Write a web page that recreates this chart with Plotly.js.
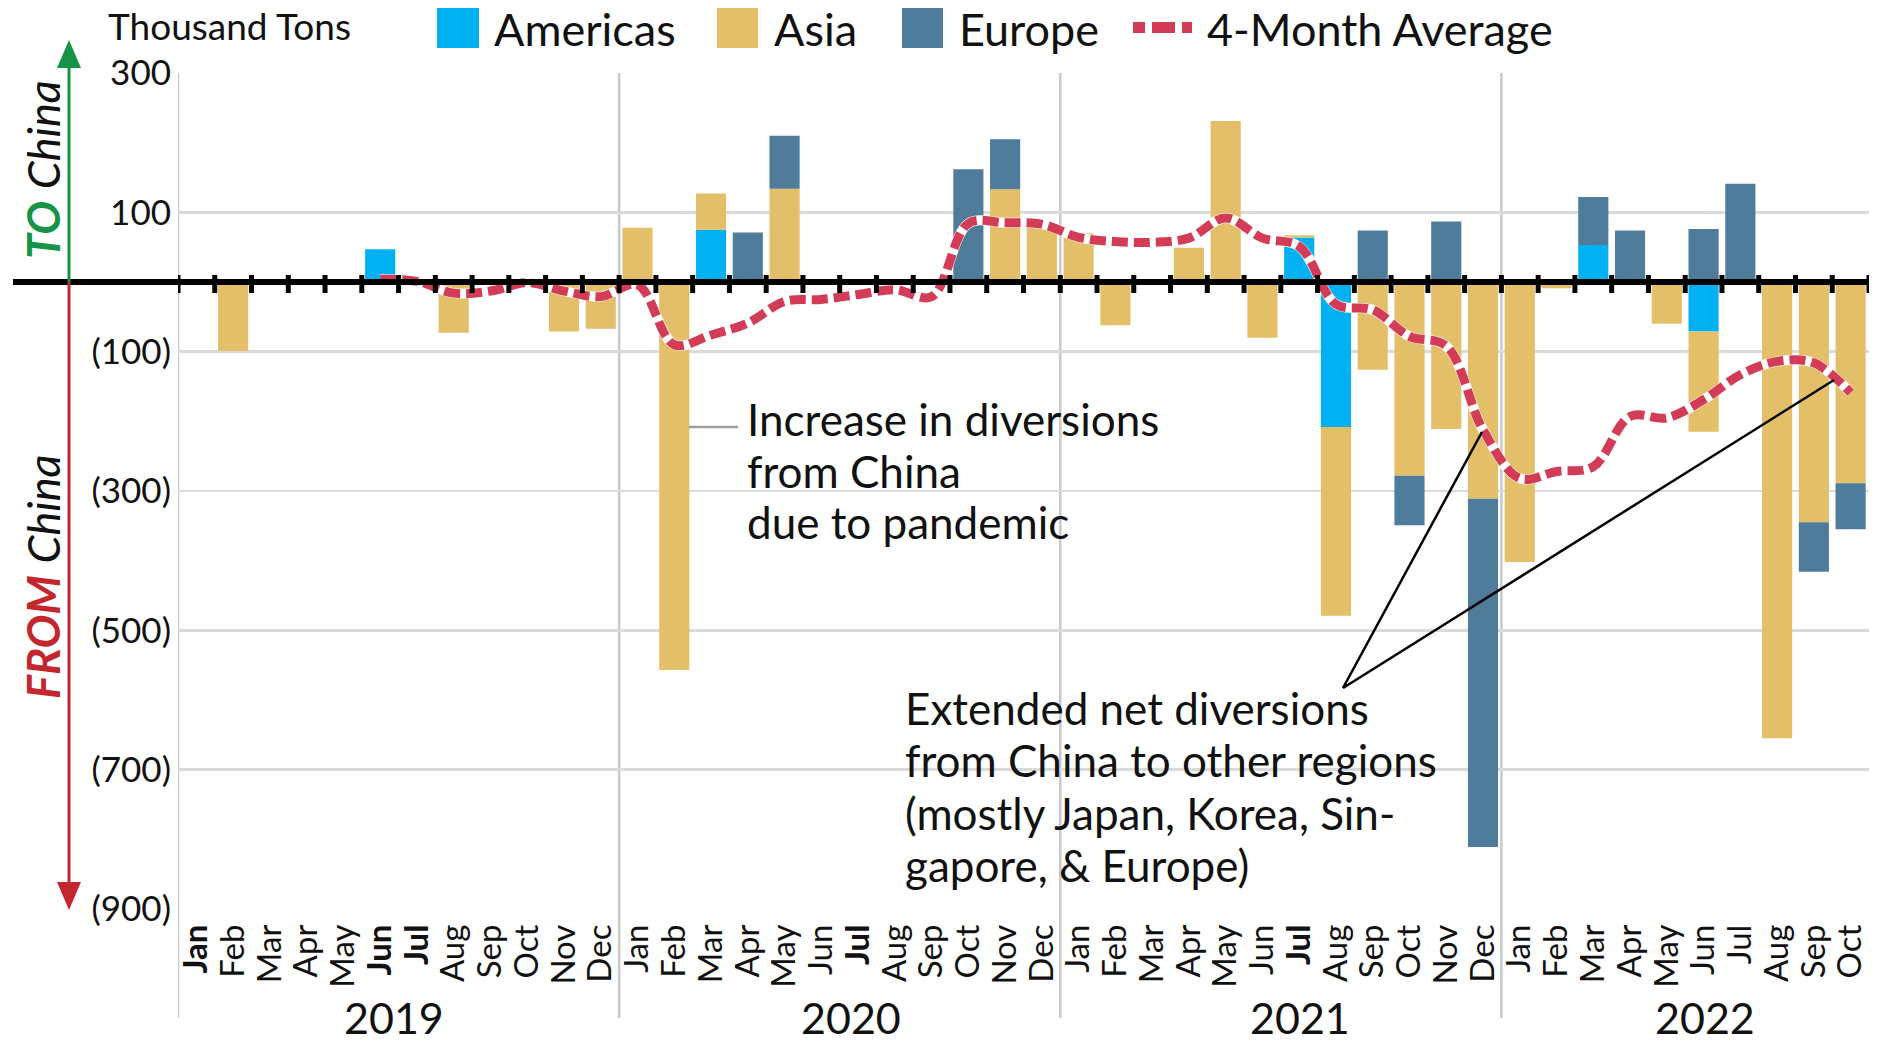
<!DOCTYPE html>
<html>
<head>
<meta charset="utf-8">
<script src="https://cdn.plot.ly/plotly-3.0.1.min.js"></script>
<style>html,body{margin:0;padding:0;background:#fff;}#chart{width:1888px;height:1043px;}</style>
</head>
<body>
<div id="chart"></div>
<script>
// ---- Data (thousand tons; positive = TO China, negative = FROM China) ----
const monthNames = ['Jan','Feb','Mar','Apr','May','Jun','Jul','Aug','Sep','Oct','Nov','Dec'];
const years = ['2019','2020','2021','2022'];
const boldMonths = [0, 5, 6, 18, 30];  // labels printed in bold in the source
const monthIndex = Array.from({length: 46}, (_, i) => i); // Jan 2019 .. Oct 2022

const americas = [
  null,null,null,null,null,47,null,null,null,null,null,null,
  null,null,75,null,null,null,null,null,null,null,null,null,
  null,null,null,null,null,null,64,-208,null,null,null,null,
  null,null,53,null,null,-71,null,null,null,null
];
const asia = [
  null,-99,null,null,null,null,null,-73,null,null,-71,-67,
  78,-557,52,null,134,null,null,null,null,null,133,78,
  70,-62,null,49,231,-80,3,-271,-126,-278,-211,-311,
  -402,-9,null,null,-60,-144,null,-655,-345,-289
];
const europe = [
  null,null,null,null,null,null,null,null,null,null,null,null,
  null,null,null,71,76,null,null,null,null,162,72,null,
  null,null,null,null,null,null,null,null,74,-71,87,-500,
  null,null,69,74,null,76,141,null,-71,-66
];
// 4-month average, Jun 2019 .. Oct 2022
const avgIndex = Array.from({length: 41}, (_, i) => i + 5);
const avgValues = [
  4,1,-16,-13,-1,-13,-21,
  -4,-90,-76,-59,-28,-25,-18,-11,-21,84,85,83,
  64,58,57,63,92,63,51,-32,-40,-78,-92,-212,
  -282,-272,-265,-193,-195,-169,-133,-114,-116,-159
];
const yTickVals = [300,100,-100,-300,-500,-700,-900];
const yTickText = ['300','100','(100)','(300)','(500)','(700)','(900)'];
const legendNames = ['Americas','Asia','Europe','4-Month Average'];
const note1 = ['Increase in diversions', 'from China', 'due to pandemic'];
const note2 = ['Extended net diversions', 'from China to other regions',
               '(mostly Japan, Korea, Sin-', 'gapore, &amp; Europe)'];

// ---- Styling ----
const FONT = 'Lato, "Open Sans", "DejaVu Sans", sans-serif';
const C_AM = '#00B0F0', C_AS = '#E4BF6A', C_EU = '#4F7C9A', C_AVG = '#D23C57';
const GREEN = '#159447', RED = '#C4262E';

const monthTickText = monthIndex.map(i => {
  const m = monthNames[i % 12];
  return boldMonths.includes(i) ? '<b>' + m + '</b>' : m;
});

const barCommon = {type: 'bar', x: monthIndex, width: 0.82, showlegend: false,
  hoverinfo: 'x+y'};
const traces = [
  Object.assign({}, barCommon, {name: legendNames[0], y: americas, marker: {color: C_AM}}),
  Object.assign({}, barCommon, {name: legendNames[1], y: asia, marker: {color: C_AS}}),
  Object.assign({}, barCommon, {name: legendNames[2], y: europe, marker: {color: C_EU}}),
  {type: 'scatter', mode: 'lines', x: avgIndex, y: avgValues, showlegend: false,
   hoverinfo: 'skip', line: {color: '#ffffff', width: 10, shape: 'spline', smoothing: 1}},
  {type: 'scatter', mode: 'lines', name: legendNames[3], x: avgIndex, y: avgValues, showlegend: false,
   line: {color: C_AVG, width: 9, dash: '16px,6px', shape: 'spline', smoothing: 1}}
];

// Pixel helpers (plot area: x 178..1869, y 73..909)
const L = 178, R = 1869, T = 73, B = 909;
const px = v => (v - L) / (R - L);
const py = v => (B - v) / (B - T);

const shapes = [];
// year separators + left border
[-0.5, 11.5, 23.5, 35.5].forEach(x => shapes.push({type: 'line', xref: 'x', yref: 'paper',
  x0: x, x1: x, y0: py(1018), y1: 1, layer: 'below', line: {color: '#C9C9C9', width: 2.5}}));
// heavy zero line
shapes.push({type: 'line', xref: 'paper', yref: 'y', x0: px(13), x1: 1, y0: 0, y1: 0,
  line: {color: '#000', width: 6}});
// month boundary ticks on the zero line
for (let k = 0; k <= 46; k++) {
  shapes.push({type: 'line', xref: 'x', yref: 'paper', x0: k - 0.5, x1: k - 0.5,
    y0: py(293), y1: py(275), line: {color: '#000', width: 5}});
}
// TO / FROM arrows
shapes.push({type: 'line', xref: 'paper', yref: 'paper', x0: px(69), x1: px(69), y0: py(282), y1: py(60),
  line: {color: GREEN, width: 3}});
shapes.push({type: 'path', xref: 'paper', yref: 'paper',
  path: `M ${px(69)},${py(40)} L ${px(57)},${py(68)} L ${px(81)},${py(68)} Z`,
  fillcolor: GREEN, line: {width: 0}});
shapes.push({type: 'line', xref: 'paper', yref: 'paper', x0: px(69), x1: px(69), y0: py(282), y1: py(890),
  line: {color: RED, width: 3}});
shapes.push({type: 'path', xref: 'paper', yref: 'paper',
  path: `M ${px(69)},${py(910)} L ${px(57)},${py(882)} L ${px(81)},${py(882)} Z`,
  fillcolor: RED, line: {width: 0}});
// annotation leader lines
shapes.push({type: 'line', xref: 'paper', yref: 'paper', x0: px(689), x1: px(738), y0: py(427), y1: py(427),
  line: {color: '#9E9E9E', width: 2.5}});
shapes.push({type: 'line', xref: 'paper', yref: 'paper', x0: px(1343), y0: py(688), x1: px(1482), y1: py(432),
  line: {color: '#000', width: 2.5}});
shapes.push({type: 'line', xref: 'paper', yref: 'paper', x0: px(1343), y0: py(688), x1: px(1834), y1: py(380),
  line: {color: '#000', width: 2.5}});
// legend swatches
[[437, 479, C_AM], [717, 758, C_AS], [902, 943, C_EU]].forEach(([a, b, c]) => shapes.push({
  type: 'rect', xref: 'paper', yref: 'paper', x0: px(a), x1: px(b), y0: py(48), y1: py(8),
  fillcolor: c, line: {width: 0}}));
[[1133, 1145], [1152, 1175], [1182, 1192]].forEach(([a, b]) => shapes.push({
  type: 'rect', xref: 'paper', yref: 'paper', x0: px(a), x1: px(b), y0: py(33), y1: py(22),
  fillcolor: C_AVG, line: {width: 0}}));

const txt = (text, x, y, size, extra) => Object.assign({text: text, xref: 'paper', yref: 'paper',
  x: x, y: y, showarrow: false, xanchor: 'left', yanchor: 'middle', align: 'left',
  font: {family: FONT, size: size, color: '#111'}}, extra || {});

const annotations = [
  txt('Thousand Tons', px(106), py(1), 37, {yanchor: 'top'}),
  txt(legendNames[0], px(492), py(0), 45, {yanchor: 'top'}),
  txt(legendNames[1], px(772), py(0), 45, {yanchor: 'top'}),
  txt(legendNames[2], px(957), py(0), 45, {yanchor: 'top'}),
  txt(legendNames[3], px(1205), py(0), 45, {yanchor: 'top'}),
  txt('<span style="color:' + GREEN + '"><b><i>TO</i></b></span> <i>China</i>', px(43), py(170), 45,
      {xanchor: 'center', textangle: -90}),
  txt('<span style="color:' + RED + '"><b><i>FROM</i></b></span> <i>China</i>', px(43), py(577), 45,
      {xanchor: 'center', textangle: -90})
];
note1.forEach((t, i) => annotations.push(txt(t, px(745), py(419 + 51.5 * i), 44)));
note2.forEach((t, i) => annotations.push(txt(t, px(903), py(708 + 52.3 * i), 44)));
[[394, years[0]], [851, years[1]], [1300, years[2]], [1705, years[3]]].forEach(([x, t]) =>
  annotations.push(txt(t, px(x), py(1018), 43, {xanchor: 'center'})));

const layout = {
  width: 1888, height: 1043, autosize: false,
  margin: {l: L, r: 1888 - R, t: T, b: 1043 - B, pad: 0},
  paper_bgcolor: '#fff', plot_bgcolor: '#fff',
  font: {family: FONT, color: '#111'},
  barmode: 'relative', bargap: 0.18,
  showlegend: false,
  xaxis: {range: [-0.5, 45.5], tickmode: 'array', tickvals: monthIndex, ticktext: monthTickText,
    tickangle: -90, tickfont: {family: FONT, size: 33, color: '#111'}, showgrid: false,
    zeroline: false, showline: false, ticks: '', ticklabelstandoff: 8, fixedrange: true},
  yaxis: {range: [-900, 300], tickmode: 'array', tickvals: yTickVals, ticktext: yTickText,
    tickfont: {family: FONT, size: 35, color: '#111'}, showgrid: true, gridcolor: '#DADADA',
    gridwidth: 2.5, zeroline: false, showline: false, ticks: '', ticklabelstandoff: 6, fixedrange: true},
  shapes: shapes,
  annotations: annotations
};

Plotly.newPlot('chart', traces, layout, {displayModeBar: false, staticPlot: true});
</script>
</body>
</html>
